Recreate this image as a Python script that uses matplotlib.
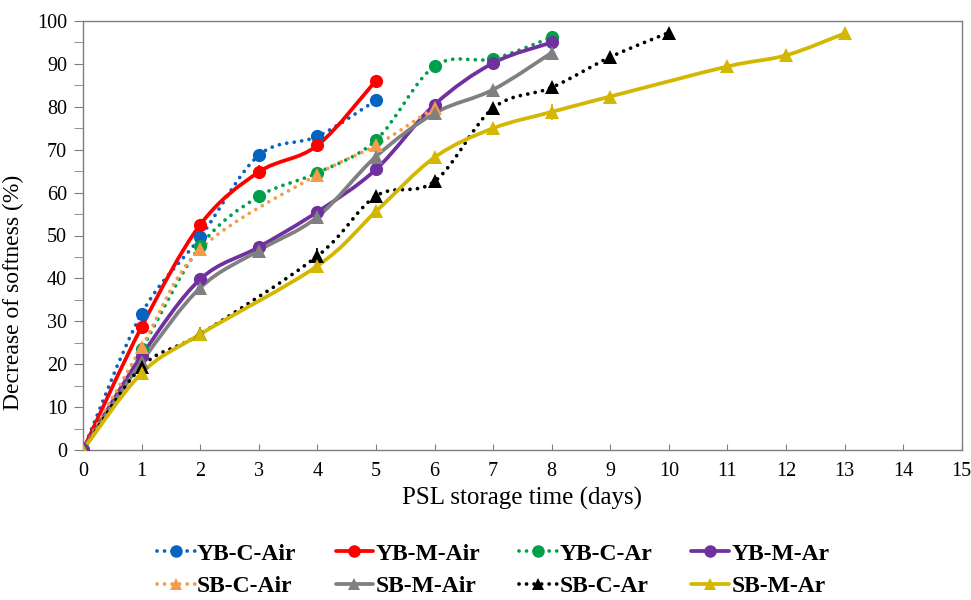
import matplotlib
matplotlib.use("Agg")
import matplotlib.pyplot as plt
from matplotlib.path import Path
from matplotlib.patches import PathPatch
from matplotlib.lines import Line2D
import numpy as np

# ---- data: decrease of softness (%) vs PSL storage time (days) ----
yb_c_air_x = [0, 1, 2, 3, 4, 5]
yb_c_air_y = [0, 31.8, 49.6, 68.7, 73.1, 81.5]
yb_c_air_e = [0, 0.5, 0.5, 0.5, 0.5, 0.5]

yb_m_air_x = [0, 1, 2, 3, 4, 5]
yb_m_air_y = [0, 28.7, 52.5, 64.8, 71.0, 86.1]
yb_m_air_e = [0, 0.5, 0.5, 1.6, 0.6, 0.5]

yb_c_ar_x = [0, 1, 2, 3, 4, 5, 6, 7, 8]
yb_c_ar_y = [0, 23.5, 47.5, 59.1, 64.6, 72.2, 89.5, 91.2, 96.2]
yb_c_ar_e = [0, 0.5, 0.5, 0.5, 0.5, 0.5, 0.5, 0.5, 0.5]

yb_m_ar_x = [0, 1, 2, 3, 4, 5, 6, 7, 8]
yb_m_ar_y = [0, 22.0, 39.8, 47.3, 55.5, 65.4, 80.5, 90.2, 95.0]
yb_m_ar_e = [0, 0.5, 0.5, 0.5, 0.5, 0.5, 0.5, 0.5, 0.5]

sb_c_air_x = [0, 1, 2, 4, 5, 6]
sb_c_air_y = [0, 24.0, 46.8, 64.2, 71.0, 79.8]
sb_c_air_e = [0, 0.5, 0.5, 0.8, 0.5, 0.5]

sb_m_air_x = [0, 1, 2, 3, 4, 5, 6, 7, 8]
sb_m_air_y = [0, 20.5, 37.8, 46.5, 54.3, 68.4, 78.5, 84.0, 92.6]
sb_m_air_e = [0, 0.5, 0.5, 0.5, 0.5, 0.5, 0.5, 0.5, 0.5]

sb_c_ar_x = [0, 1, 2, 4, 5, 6, 7, 8, 9, 10]
sb_c_ar_y = [0, 19.4, 27.0, 45.2, 59.2, 62.6, 79.7, 84.5, 91.6, 97.3]
sb_c_ar_e = [0, 0.6, 0.6, 1.8, 1.0, 1.0, 1.0, 1.0, 1.0, 1.0]

sb_m_ar_x = [0, 1, 2, 4, 5, 6, 7, 8, 9, 11, 12, 13]
sb_m_ar_y = [0, 17.9, 27.0, 42.9, 55.6, 68.2, 75.0, 78.8, 82.4, 89.4, 92.0, 97.1]
sb_m_ar_e = [0, 0.6, 1.6, 0.6, 0.6, 0.6, 0.6, 1.8, 0.8, 0.5, 0.5, 0.5]

labels = ["YB-C-Air", "YB-M-Air", "YB-C-Ar", "YB-M-Ar",
          "SB-C-Air", "SB-M-Air", "SB-C-Ar", "SB-M-Ar"]
xs = [yb_c_air_x, yb_m_air_x, yb_c_ar_x, yb_m_ar_x,
      sb_c_air_x, sb_m_air_x, sb_c_ar_x, sb_m_ar_x]
ys = [yb_c_air_y, yb_m_air_y, yb_c_ar_y, yb_m_ar_y,
      sb_c_air_y, sb_m_air_y, sb_c_ar_y, sb_m_ar_y]
es = [yb_c_air_e, yb_m_air_e, yb_c_ar_e, yb_m_ar_e,
      sb_c_air_e, sb_m_air_e, sb_c_ar_e, sb_m_ar_e]

x_ticks = list(range(0, 16))
y_ticks = list(range(0, 101, 10))

# ---- styles ----
DOT = (0, (0.01, 2.0))
styles = [
    dict(color="#0563C1", ls=DOT, marker="o"),
    dict(color="#FF0000", ls="-", marker="o"),
    dict(color="#00A04A", ls=DOT, marker="o"),
    dict(color="#7030A0", ls="-", marker="o"),
    dict(color="#F79A4A", ls=DOT, marker="^"),
    dict(color="#808080", ls="-", marker="^"),
    dict(color="#000000", ls=DOT, marker="^"),
    dict(color="#D4B700", ls="-", marker="^"),
]
LW = 2.7

plt.rcParams["font.family"] = ["Liberation Serif", "DejaVu Serif"]

fig = plt.figure(figsize=(9.71, 6.0), dpi=100)
ax = fig.add_axes([0.0855, 0.25, 0.905, 0.715])


def smooth_path(x, y):
    """Cubic Bezier path through the points (Catmull-Rom style smoothing)."""
    p = np.column_stack([x, y]).astype(float)
    n = len(p)
    verts = [p[0]]
    codes = [Path.MOVETO]
    for i in range(n - 1):
        p0 = p[i - 1] if i > 0 else p[i]
        p1 = p[i]
        p2 = p[i + 1]
        p3 = p[i + 2] if i + 2 < n else p[i + 1]
        c1 = p1 + (p2 - p0) / 6.0
        c2 = p2 - (p3 - p1) / 6.0
        verts += [c1, c2, p2]
        codes += [Path.CURVE4] * 3
    return Path(verts, codes)


for x, y, e, st in zip(xs, ys, es, styles):
    patch = PathPatch(smooth_path(x, y), fill=False, edgecolor=st["color"],
                      linewidth=LW, linestyle=st["ls"], capstyle="round",
                      joinstyle="round", zorder=3)
    ax.add_patch(patch)
    ms = 9.5 if st["marker"] == "o" else 9.5
    ax.errorbar(x, y, yerr=e, fmt=st["marker"], color=st["color"],
                markersize=ms, markeredgewidth=0, elinewidth=1.3,
                capsize=2.5, capthick=1.3, zorder=4)

ax.set_xlim(0, 15)
ax.set_ylim(0, 100)
ax.set_xticks(x_ticks)
ax.set_xticklabels([str(t) for t in x_ticks])
ax.set_yticks(y_ticks)
ax.set_yticklabels([str(t) for t in y_ticks])
ax.set_yticks(range(5, 100, 10), minor=True)

for s in ax.spines.values():
    s.set_color("#7f7f7f")
    s.set_linewidth(1.0)

ax.tick_params(axis="x", which="major", direction="in", length=4,
               color="#7f7f7f", labelsize=14.5, pad=9)
ax.tick_params(axis="y", which="both", direction="out", length=6.5,
               color="#7f7f7f", labelsize=14.5, pad=5)

ax.set_xlabel("PSL storage time (days)", fontsize=18, labelpad=4)
ax.set_ylabel("Decrease of softness (%)", fontsize=17)
ax.yaxis.set_label_coords(-0.067, 0.368)

# legend: two rows of four entries
handles = [Line2D([0], [0], color=st["color"], lw=LW, linestyle=st["ls"],
                  solid_capstyle="round", dash_capstyle="round",
                  marker=st["marker"], markersize=9, markeredgewidth=0)
           for st in styles]
order = [0, 4, 1, 5, 2, 6, 3, 7]
leg = fig.legend([handles[i] for i in order], [labels[i] for i in order],
                 ncol=4, loc="center", bbox_to_anchor=(0.508, 0.05),
                 frameon=False, prop=dict(family="Liberation Serif",
                                          weight="bold", size=17),
                 handlelength=1.6, handletextpad=0.1, columnspacing=1.65,
                 labelspacing=0.45, markerscale=1.0)

fig.savefig("out.png", dpi=100, facecolor="white")
